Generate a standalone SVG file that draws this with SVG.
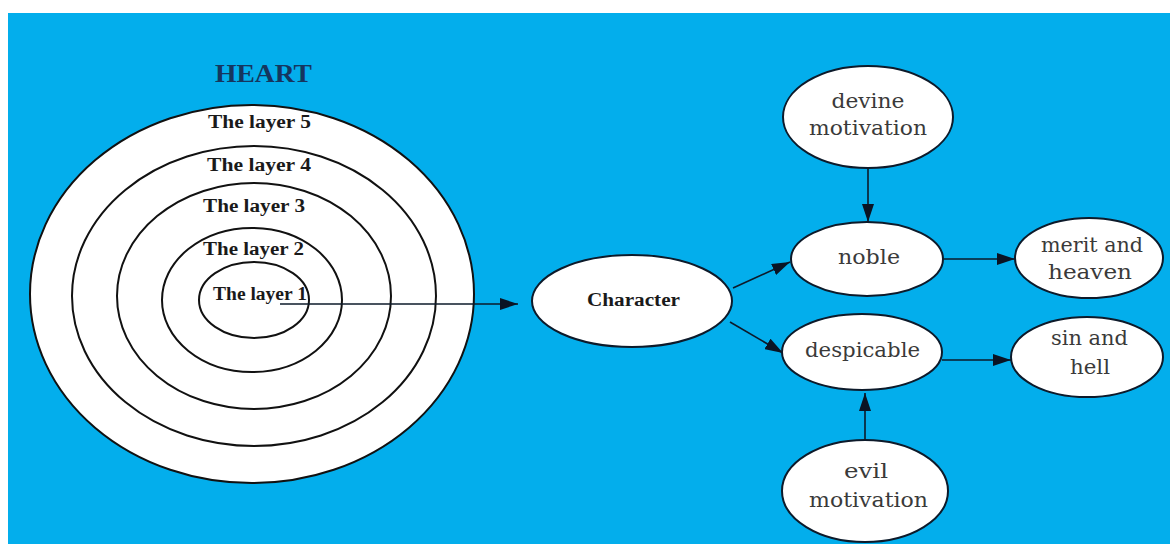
<svg xmlns="http://www.w3.org/2000/svg" width="1170" height="544" viewBox="0 0 1170 544">
<style>
.ring{fill:#ffffff;stroke:#111;stroke-width:2}
.node{fill:#ffffff;stroke:#0d1a2a;stroke-width:2}
.lt{font-family:'Liberation Serif','DejaVu Serif',serif;font-weight:bold;font-size:18px;fill:#1a1a1a;text-anchor:middle}
.nt{font-family:'DejaVu Serif','Liberation Serif',serif;font-weight:normal;font-size:20px;fill:#3a3a3a;text-anchor:middle}
.conn{stroke:#0d1a2a;stroke-width:1.6;fill:none;marker-end:url(#ah)}
</style>
<defs>
<marker id="ah" viewBox="0 0 18 12" markerWidth="18" markerHeight="12" refX="18" refY="6" orient="auto" markerUnits="userSpaceOnUse">
<path d="M0,0 L18,6 L0,12 z" fill="#0a1424"/>
</marker>
</defs>
<rect x="0" y="0" width="1170" height="544" fill="#ffffff"/>
<rect x="8" y="13" width="1162" height="531" fill="#03AEEC"/>
<text x="263.5" y="82" font-family="'Liberation Serif',serif" font-weight="bold" font-size="25" fill="#15365f" text-anchor="middle" textLength="97" lengthAdjust="spacingAndGlyphs">HEART</text>
<g id="heart">
<g id="layer5"><ellipse class="ring" cx="252" cy="294" rx="222" ry="189"/><text class="lt" x="259.5" y="128" textLength="103" lengthAdjust="spacingAndGlyphs">The layer 5</text></g>
<g id="layer4"><ellipse class="ring" cx="254" cy="296" rx="182" ry="150"/><text class="lt" x="259" y="171" textLength="104" lengthAdjust="spacingAndGlyphs">The layer 4</text></g>
<g id="layer3"><ellipse class="ring" cx="254" cy="296" rx="137" ry="113"/><text class="lt" x="254" y="212" textLength="102" lengthAdjust="spacingAndGlyphs">The layer 3</text></g>
<g id="layer2"><ellipse class="ring" cx="252" cy="300" rx="90" ry="72"/><text class="lt" x="253.5" y="255" textLength="101" lengthAdjust="spacingAndGlyphs">The layer 2</text></g>
<g id="layer1"><ellipse class="ring" cx="254" cy="300" rx="55" ry="38"/><text class="lt" x="260" y="300" font-size="16" textLength="94" lengthAdjust="spacingAndGlyphs">The layer 1</text></g>
</g>
<g id="connectors">
<path class="conn" d="M280,304 L518,304"/>
<path class="conn" d="M733,288 L790,262"/>
<path class="conn" d="M730,322 L783,353"/>
<path class="conn" d="M868,168 L868,222"/>
<path class="conn" d="M944,259 L1015,259"/>
<path class="conn" d="M942,360 L1011,360"/>
<path class="conn" d="M865,440 L865,393"/>
</g>
<g id="character"><ellipse class="node" cx="632" cy="301" rx="100" ry="46"/><text class="lt" x="633.5" y="306" textLength="93" lengthAdjust="spacingAndGlyphs">Character</text></g>
<g id="devine"><ellipse class="node" cx="868" cy="117" rx="85" ry="51"/><text class="nt" x="868" y="108" textLength="73" lengthAdjust="spacingAndGlyphs">devine</text><text class="nt" x="868" y="135" textLength="118" lengthAdjust="spacingAndGlyphs">motivation</text></g>
<g id="noble"><ellipse class="node" cx="867" cy="259" rx="76" ry="37"/><text class="nt" x="869" y="264" textLength="62" lengthAdjust="spacingAndGlyphs">noble</text></g>
<g id="merit"><ellipse class="node" cx="1089" cy="258" rx="74" ry="40"/><text class="nt" x="1092" y="252" textLength="102" lengthAdjust="spacingAndGlyphs">merit and</text><text class="nt" x="1090" y="279" textLength="84" lengthAdjust="spacingAndGlyphs">heaven</text></g>
<g id="despicable"><ellipse class="node" cx="862" cy="352" rx="80" ry="38"/><text class="nt" x="862.5" y="357" textLength="115" lengthAdjust="spacingAndGlyphs">despicable</text></g>
<g id="sin"><ellipse class="node" cx="1087" cy="357" rx="76" ry="40"/><text class="nt" x="1089.5" y="345" textLength="77" lengthAdjust="spacingAndGlyphs">sin and</text><text class="nt" x="1090" y="374" textLength="40" lengthAdjust="spacingAndGlyphs">hell</text></g>
<g id="evil"><ellipse class="node" cx="865" cy="491" rx="83" ry="51"/><text class="nt" x="866" y="478" textLength="44" lengthAdjust="spacingAndGlyphs">evil</text><text class="nt" x="868.5" y="507" textLength="119" lengthAdjust="spacingAndGlyphs">motivation</text></g>
</svg>
